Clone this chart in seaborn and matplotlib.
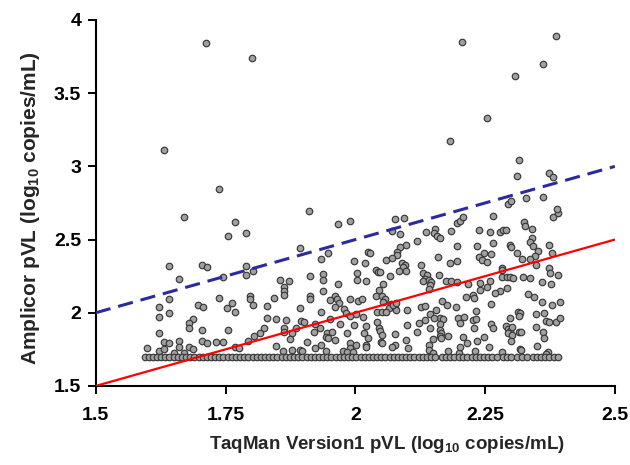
import matplotlib
matplotlib.use("Agg")
import matplotlib.pyplot as plt
import seaborn as sns
import pandas as pd

# ---------------- data ----------------
# points at the Amplicor lower limit (1.7 log10)
floor_level = 1.7
floor_x = [1.594, 1.602, 1.610, 1.618, 1.626, 1.634, 1.642, 1.650, 1.658, 1.666,
           1.674, 1.682, 1.690, 1.698, 1.706, 1.714, 1.722, 1.730, 1.738, 1.746,
           1.754, 1.762, 1.770, 1.778, 1.786, 1.794, 1.802, 1.810, 1.818, 1.826,
           1.834, 1.842, 1.850, 1.858, 1.866, 1.874, 1.882, 1.890, 1.898, 1.906,
           1.914, 1.922, 1.930, 1.938, 1.946, 1.954, 1.962, 1.970, 1.978, 1.986,
           1.994, 2.002, 2.010, 2.018, 2.026, 2.034, 2.042, 2.050, 2.058, 2.066,
           2.074, 2.082, 2.090, 2.098, 2.106, 2.114, 2.122, 2.130, 2.138, 2.146,
           2.153, 2.167, 2.175, 2.183, 2.191, 2.199, 2.207, 2.215, 2.224, 2.232,
           2.240, 2.248, 2.256, 2.264, 2.272, 2.284, 2.292, 2.300, 2.312, 2.322,
           2.331, 2.342, 2.350, 2.358, 2.366, 2.374, 2.382, 2.390]

# TaqMan 1.6 - 1.8
grp1_x = [1.670, 1.769, 1.754, 1.790, 1.641, 1.705, 1.714, 1.790, 1.660, 1.745,
          1.790, 1.641, 1.621, 1.738, 1.762, 1.753, 1.769, 1.697, 1.706, 1.641,
          1.621, 1.687, 1.679, 1.679, 1.705, 1.754, 1.621, 1.631, 1.641, 1.660,
          1.705, 1.714, 1.731, 1.745, 1.599, 1.621, 1.631, 1.660, 1.679, 1.687,
          1.650, 1.670, 1.769, 1.776, 1.794, 1.797, 1.797]
grp1_y = [2.656, 2.617, 2.526, 2.546, 2.319, 2.326, 2.310, 2.319, 2.230, 2.242,
          2.258, 2.092, 2.039, 2.101, 2.069, 2.032, 2.005, 2.055, 2.041, 1.996,
          1.969, 1.957, 1.930, 1.898, 1.882, 1.882, 1.860, 1.802, 1.796, 1.805,
          1.807, 1.791, 1.798, 1.798, 1.761, 1.739, 1.750, 1.764, 1.768, 1.750,
          1.723, 1.727, 1.768, 1.759, 1.809, 2.115, 2.095]

# TaqMan 1.8 - 2.0
grp2_x = [1.911, 1.966, 1.989, 1.894, 1.948, 1.933, 1.998, 1.803, 2.004, 1.912,
          1.938, 1.938, 1.855, 1.873, 2.004, 1.966, 1.862, 1.862, 1.862, 1.937,
          1.912, 1.912, 1.843, 1.961, 1.965, 1.951, 1.989, 2.005, 1.803, 1.830,
          1.969, 1.961, 1.894, 1.978, 1.982, 1.933, 2.002, 1.830, 1.848, 1.867,
          1.895, 1.901, 1.951, 1.989, 1.922, 1.971, 1.998, 1.824, 1.817, 1.862,
          1.862, 1.885, 1.878, 1.932, 1.920, 1.945, 1.943, 1.947, 1.956, 1.961,
          1.984, 1.805, 1.874, 1.907, 1.933, 1.847, 1.922, 1.989, 1.989, 2.002,
          1.861, 1.878, 1.894, 1.898, 1.943, 1.976, 1.984, 1.996]
grp2_y = [2.692, 2.604, 2.628, 2.444, 2.406, 2.365, 2.353, 2.287, 2.269, 2.253,
          2.265, 2.224, 2.224, 2.219, 2.224, 2.196, 2.174, 2.151, 2.119, 2.151,
          2.114, 2.092, 2.101, 2.114, 2.096, 2.087, 2.092, 2.082, 2.053, 2.044,
          2.065, 2.037, 2.030, 2.024, 2.000, 2.003, 1.991, 1.962, 1.957, 1.951,
          1.946, 1.939, 1.959, 1.978, 1.923, 1.921, 1.914, 1.894, 1.862, 1.894,
          1.871, 1.898, 1.860, 1.896, 1.867, 1.860, 1.837, 1.826, 1.871, 1.814,
          1.864, 1.841, 1.819, 1.802, 1.780, 1.773, 1.759, 1.796, 1.757, 1.780,
          1.741, 1.746, 1.746, 1.741, 1.739, 1.741, 1.734, 1.734]

# TaqMan 2.0 - 2.22
grp3_x = [2.077, 2.094, 2.070, 2.087, 2.137, 2.153, 2.151, 2.158, 2.164, 2.185,
          2.195, 2.201, 2.208, 2.119, 2.097, 2.087, 2.195, 2.024, 2.028, 2.081,
          2.081, 2.060, 2.070, 2.160, 2.018, 2.089, 2.095, 2.091, 2.126, 2.195,
          2.182, 2.039, 2.043, 2.084, 2.097, 2.047, 2.067, 2.131, 2.138, 2.135,
          2.131, 2.141, 2.145, 2.144, 2.141, 2.161, 2.021, 2.174, 2.185, 2.196,
          2.217, 2.054, 2.046, 2.040, 2.052, 2.057, 2.054,
          2.068, 2.072, 2.076, 2.079, 2.064, 2.073, 2.078,
          2.013, 2.167, 2.177, 2.214, 2.126, 2.135, 2.100, 2.042, 2.051, 2.060,
          2.155, 2.194, 2.015, 2.144, 2.163, 2.168, 2.151, 2.197, 2.210, 2.135,
          2.042, 2.020, 2.100, 2.122, 2.164, 2.201, 2.144, 2.045, 2.047, 2.163,
          2.165, 2.163, 2.165, 2.016, 2.077, 2.119, 2.178, 2.208, 2.025, 2.052,
          2.049, 2.052, 2.098, 2.149, 2.216, 2.076, 2.070, 2.101, 2.020, 2.020,
          2.141, 2.141, 2.149, 2.178, 2.200, 2.201]
grp3_y = [2.640, 2.647, 2.558, 2.536, 2.551, 2.570, 2.542, 2.524, 2.510, 2.558,
          2.611, 2.624, 2.652, 2.488, 2.465, 2.449, 2.454, 2.415, 2.406, 2.417,
          2.396, 2.360, 2.372, 2.381, 2.338, 2.338, 2.324, 2.310, 2.324, 2.353,
          2.338, 2.292, 2.278, 2.283, 2.285, 2.278, 2.253, 2.269, 2.258, 2.230,
          2.219, 2.224, 2.212, 2.189, 2.160, 2.258, 2.219, 2.219, 2.215, 2.212,
          2.196, 2.196, 2.155, 2.114, 2.114, 2.096, 2.075,
          2.058, 2.041, 2.030, 2.019, 2.034, 2.051, 2.065,
          2.092, 2.082, 2.053, 2.110, 2.041, 2.046, 2.021, 2.005, 2.003, 2.005,
          2.019, 2.041, 1.969, 1.991, 1.966, 1.959, 1.962, 1.962, 1.973, 1.948,
          1.935, 1.912, 1.914, 1.928, 1.923, 1.928, 1.896, 1.894, 1.877, 1.882,
          1.860, 1.841, 1.826, 1.864, 1.853, 1.867, 1.841, 1.837, 1.826, 1.848,
          1.802, 1.791, 1.814, 1.819, 1.791, 1.780, 1.764, 1.761, 1.782, 1.764,
          1.782, 1.746, 1.723, 1.741, 1.727, 1.764]

# TaqMan 2.22 - 2.4
grp4_x = [2.265, 2.380, 2.390, 2.325, 2.327, 2.239, 2.259, 2.278, 2.284, 2.290,
          2.340, 2.340, 2.337, 2.343, 2.265, 2.235, 2.298, 2.299, 2.373, 2.248,
          2.261, 2.312, 2.352, 2.346, 2.379, 2.239, 2.244, 2.253, 2.321, 2.336,
          2.348, 2.373, 2.375, 2.282, 2.282, 2.390, 2.283, 2.292, 2.298, 2.304,
          2.323, 2.336, 2.259, 2.240, 2.360, 2.377, 2.292, 2.240, 2.253, 2.279,
          2.269, 2.332, 2.344, 2.226, 2.229, 2.360, 2.394, 2.262, 2.378, 2.313,
          2.318, 2.316, 2.348, 2.363, 2.233, 2.298, 2.226, 2.232, 2.368, 2.373,
          2.386, 2.394, 2.261, 2.266, 2.291, 2.294, 2.298, 2.301, 2.349, 2.229,
          2.295, 2.302, 2.315, 2.320, 2.361, 2.300, 2.248, 2.234, 2.363, 2.258,
          2.230, 2.317, 2.319, 2.350, 2.372, 2.368, 2.283]
grp4_y = [2.660, 2.654, 2.681, 2.622, 2.592, 2.565, 2.549, 2.551, 2.563, 2.565,
          2.572, 2.508, 2.483, 2.456, 2.476, 2.456, 2.460, 2.447, 2.465, 2.410,
          2.403, 2.410, 2.422, 2.389, 2.410, 2.378, 2.360, 2.344, 2.365, 2.365,
          2.324, 2.303, 2.273, 2.303, 2.292, 2.256, 2.246, 2.244, 2.244, 2.237,
          2.246, 2.237, 2.215, 2.205, 2.208, 2.196, 2.169, 2.153, 2.174, 2.146,
          2.137, 2.126, 2.110, 2.121, 2.103, 2.075, 2.071, 2.058, 2.055, 2.005,
          1.996, 1.978, 1.991, 1.996, 2.010, 1.962, 1.948, 1.957, 1.944, 1.939,
          1.939, 1.962, 1.923, 1.896, 1.912, 1.887, 1.877, 1.905, 1.901, 1.896,
          1.864, 1.848, 1.869, 1.869, 1.871, 1.807, 1.832, 1.807, 1.830, 1.768,
          1.741, 1.750, 1.746, 1.771, 1.734, 1.718, 1.734]

# high Amplicor values
high_x = [1.713, 1.801, 1.631, 1.737, 2.205, 2.386, 2.361, 2.307, 2.254, 2.182,
          2.315, 2.311, 2.374, 2.381, 2.329, 2.361, 2.294, 2.299, 2.389]
high_y = [3.841, 3.737, 3.113, 2.843, 3.847, 3.893, 3.701, 3.620, 3.331, 3.172,
          3.043, 2.933, 2.954, 2.927, 2.785, 2.792, 2.744, 2.761, 2.708]

# reference lines: identity and identity + 0.5 log
line_x = [1.5, 2.5]
identity_y = [1.5, 2.5]
plus_half_y = [2.0, 3.0]

x_ticks = [1.5, 1.75, 2.0, 2.25, 2.5]
x_tick_labels = ["1.5", "1.75", "2", "2.25", "2.5"]
y_ticks = [1.5, 2.0, 2.5, 3.0, 3.5, 4.0]
y_tick_labels = ["1.5", "2", "2.5", "3", "3.5", "4"]

# ---------------- build table ----------------
frames = []
for gx, gy in [(grp1_x, grp1_y), (grp2_x, grp2_y), (grp3_x, grp3_y),
               (grp4_x, grp4_y), (high_x, high_y),
               (floor_x, [floor_level] * len(floor_x))]:
    assert len(gx) == len(gy), (len(gx), len(gy))
    frames.append(pd.DataFrame({"taqman": gx, "amplicor": gy}))
df = pd.concat(frames, ignore_index=True)

# ---------------- style ----------------
sns.set_style("ticks")
plt.rcParams["font.family"] = ["Liberation Sans", "DejaVu Sans"]
plt.rcParams["font.weight"] = "bold"
plt.rcParams["mathtext.fontset"] = "custom"
plt.rcParams["mathtext.rm"] = "Liberation Sans:bold"
plt.rcParams["mathtext.bf"] = "Liberation Sans:bold"
plt.rcParams["mathtext.default"] = "bf"

fig = plt.figure(figsize=(6.3, 4.65), dpi=100)
ax = fig.add_axes([0.152, 0.170, 0.824, 0.787])

sns.scatterplot(data=df, x="taqman", y="amplicor", ax=ax, s=22,
                color="#a0a0a0", edgecolor="#383838", linewidth=0.85,
                zorder=2, legend=False)

sns.lineplot(x=line_x, y=identity_y, ax=ax, color="#ff0000", linewidth=1.6,
             zorder=3)
sns.lineplot(x=line_x, y=plus_half_y, ax=ax, color="#2b2b9e", linewidth=2.2,
             zorder=3)
ax.lines[-1].set_dashes((5, 2.6))

ax.set_xlim(1.5, 2.5)
ax.set_ylim(1.5, 4.0)
ax.set_xticks(x_ticks)
ax.set_xticklabels(x_tick_labels)
ax.set_yticks(y_ticks)
ax.set_yticklabels(y_tick_labels)

for side in ["top", "right"]:
    ax.spines[side].set_visible(False)
for side in ["left", "bottom"]:
    ax.spines[side].set_linewidth(1.5)
    ax.spines[side].set_color("black")

ax.tick_params(axis="both", direction="out", length=5.5, width=1.4,
               colors="black", labelsize=14)
ax.tick_params(axis="x", pad=10)
ax.tick_params(axis="y", pad=5)
for lab in ax.get_xticklabels() + ax.get_yticklabels():
    lab.set_fontweight("bold")

ax.set_xlabel("TaqMan Version1 pVL (log$_{10}$ copies/mL)", fontsize=13.5,
              fontweight="bold")
ax.set_ylabel("Amplicor pVL (log$_{10}$ copies/mL)", fontsize=15,
              fontweight="bold")
ax.xaxis.set_label_coords(0.56, -0.13)
ax.yaxis.set_label_coords(-0.104, 0.485)

fig.savefig("out.png", dpi=100)
